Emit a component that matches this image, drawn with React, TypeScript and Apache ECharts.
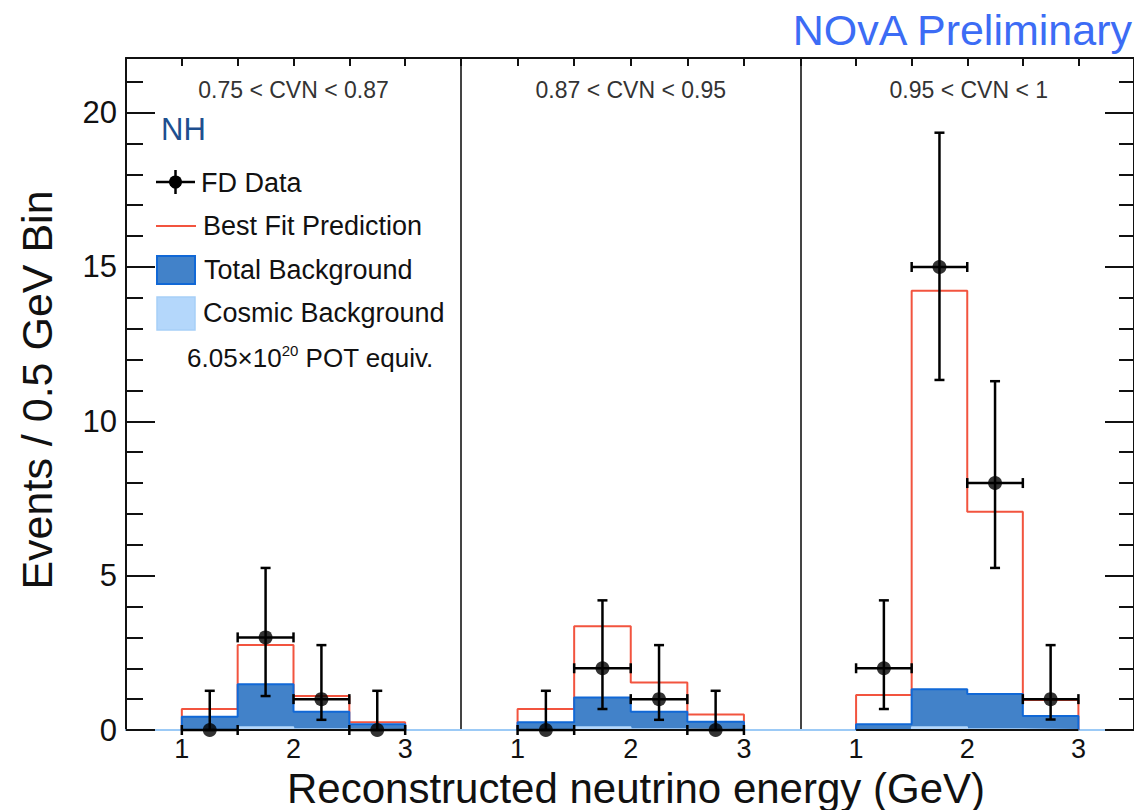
import React, { useEffect, useRef } from "react";
import * as echarts from "echarts";

// ---------- data ----------
const BIN_EDGES = [1, 1.5, 2, 2.5, 3];
const X_TICK_VALUES = [1, 2, 3];
const PANEL_LABELS = ["0.75 < CVN < 0.87", "0.87 < CVN < 0.95", "0.95 < CVN < 1"];
const Y_MAX = 21.77;

// Best fit prediction (red)
const BEST_FIT_P1 = [0.68, 2.75, 1.1, 0.25];
const BEST_FIT_P2 = [0.68, 3.36, 1.54, 0.5];
const BEST_FIT_P3 = [1.13, 14.23, 7.07, 0.97];

// Total background (blue)
const TOTAL_BKG_P1 = [0.43, 1.48, 0.59, 0.19];
const TOTAL_BKG_P2 = [0.25, 1.05, 0.59, 0.27];
const TOTAL_BKG_P3 = [0.19, 1.32, 1.17, 0.45];

// Cosmic background (light blue)
const COSMIC_BKG_P1 = [0.02, 0.1, 0.03, 0.01];
const COSMIC_BKG_P2 = [0.02, 0.1, 0.03, 0.01];
const COSMIC_BKG_P3 = [0.02, 0.1, 0.03, 0.01];

// FD data and asymmetric errors
const DATA_P1 = [0, 3, 1, 0];
const DATA_P2 = [0, 2, 1, 0];
const DATA_P3 = [2, 15, 8, 1];
const ERR_LO_P1 = [0, 1.1, 0.33, 0];
const ERR_LO_P2 = [0, 0.68, 0.33, 0];
const ERR_LO_P3 = [0.68, 11.34, 5.25, 0.34];
const ERR_HI_P1 = [1.27, 5.25, 2.75, 1.27];
const ERR_HI_P2 = [1.27, 4.2, 2.75, 1.27];
const ERR_HI_P3 = [4.2, 19.35, 11.3, 2.75];

const PANELS = [
  { pred: BEST_FIT_P1, bkg: TOTAL_BKG_P1, cos: COSMIC_BKG_P1, data: DATA_P1, lo: ERR_LO_P1, hi: ERR_HI_P1 },
  { pred: BEST_FIT_P2, bkg: TOTAL_BKG_P2, cos: COSMIC_BKG_P2, data: DATA_P2, lo: ERR_LO_P2, hi: ERR_HI_P2 },
  { pred: BEST_FIT_P3, bkg: TOTAL_BKG_P3, cos: COSMIC_BKG_P3, data: DATA_P3, lo: ERR_LO_P3, hi: ERR_HI_P3 },
];

// ---------- layout / style ----------
const FONT = "'Liberation Sans', Arial, Helvetica, sans-serif";
const GRID_TOP = 58;
const GRID_H = 672;
const GRIDS = [
  { left: 126, width: 335 },
  { left: 461, width: 339.5 },
  { left: 800.5, width: 336.5 },
];
const RED = "#f2543f";
const BLUE_FILL = "#4282c9";
const BLUE_LINE = "#1168d6";
const LIGHT_BLUE = "#b4d7fb";
const AXIS_BLUE = "#9ccaf6";

function stepPoints(values: number[]) {
  const pts: number[][] = [[BIN_EDGES[0], 0]];
  values.forEach((v, i) => {
    pts.push([BIN_EDGES[i], v]);
    pts.push([BIN_EDGES[i + 1], v]);
  });
  pts.push([BIN_EDGES[BIN_EDGES.length - 1], 0]);
  return pts;
}

function buildOption() {
  const xAxis: any[] = [];
  const yAxis: any[] = [];
  const series: any[] = [];

  GRIDS.forEach((_, gi) => {
    xAxis.push({
      type: "value",
      gridIndex: gi,
      position: "bottom",
      min: 0.5,
      max: 3.5,
      interval: 0.5,
      axisLine: { show: true, onZero: false, lineStyle: { color: AXIS_BLUE, width: 2 } },
      axisTick: { show: false },
      splitLine: { show: false },
      axisLabel: {
        show: true,
        fontFamily: FONT,
        fontSize: 27,
        color: "#111",
        margin: 5,
        customValues: X_TICK_VALUES,
        formatter: (v: number) => (X_TICK_VALUES.includes(v) ? String(v) : ""),
      },
    });
    xAxis.push({
      type: "value",
      gridIndex: gi,
      position: "top",
      min: 0.5,
      max: 3.5,
      interval: 0.5,
      axisLine: { show: true, onZero: false, lineStyle: { color: "#111", width: 2 } },
      axisTick: { show: true, inside: true, length: 8, lineStyle: { color: "#111", width: 2 } },
      splitLine: { show: false },
      axisLabel: { show: false },
    });
  });

  // grid 0: left axis major + minor
  yAxis.push({
    type: "value",
    gridIndex: 0,
    position: "left",
    min: 0,
    max: Y_MAX,
    interval: 5,
    axisLine: { show: true, onZero: false, lineStyle: { color: "#111", width: 2 } },
    axisTick: { show: true, inside: true, length: 29, lineStyle: { color: "#111", width: 2 } },
    splitLine: { show: false },
    axisLabel: { show: true, fontFamily: FONT, fontSize: 31, color: "#111", margin: 9, showMaxLabel: false },
  });
  yAxis.push({
    type: "value",
    gridIndex: 0,
    position: "left",
    min: 0,
    max: Y_MAX,
    interval: 1,
    axisLine: { show: false, onZero: false },
    axisTick: { show: true, inside: true, length: 17, lineStyle: { color: "#111", width: 2 } },
    splitLine: { show: false },
    axisLabel: { show: false },
  });
  // grid 1 & 2 dividers
  [1, 2].forEach((gi) => {
    yAxis.push({
      type: "value",
      gridIndex: gi,
      position: "left",
      min: 0,
      max: Y_MAX,
      interval: 5,
      axisLine: { show: true, onZero: false, lineStyle: { color: "#444", width: 2 } },
      axisTick: { show: false },
      splitLine: { show: false },
      axisLabel: { show: false },
    });
  });
  // grid 2 right axis major + minor
  yAxis.push({
    type: "value",
    gridIndex: 2,
    position: "right",
    min: 0,
    max: Y_MAX,
    interval: 5,
    axisLine: { show: true, onZero: false, lineStyle: { color: "#111", width: 2 } },
    axisTick: { show: true, inside: true, length: 29, lineStyle: { color: "#111", width: 2 } },
    splitLine: { show: false },
    axisLabel: { show: false },
  });
  yAxis.push({
    type: "value",
    gridIndex: 2,
    position: "right",
    min: 0,
    max: Y_MAX,
    interval: 1,
    axisLine: { show: false, onZero: false },
    axisTick: { show: true, inside: true, length: 15, lineStyle: { color: "#111", width: 2 } },
    splitLine: { show: false },
    axisLabel: { show: false },
  });

  const yIdx = [0, 2, 3];

  PANELS.forEach((p, gi) => {
    const xi = gi * 2;
    const yi = yIdx[gi];
    series.push({
      type: "line",
      name: "Best Fit Prediction",
      xAxisIndex: xi,
      yAxisIndex: yi,
      data: stepPoints(p.pred),
      showSymbol: false,
      symbol: "none",
      lineStyle: { color: RED, width: 2 },
      z: 2,
    });
    series.push({
      type: "line",
      name: "Total Background",
      xAxisIndex: xi,
      yAxisIndex: yi,
      data: stepPoints(p.bkg),
      showSymbol: false,
      symbol: "none",
      lineStyle: { color: BLUE_LINE, width: 2 },
      areaStyle: { color: BLUE_FILL, opacity: 1 },
      z: 3,
    });
    series.push({
      type: "line",
      name: "Cosmic Background",
      xAxisIndex: xi,
      yAxisIndex: yi,
      data: stepPoints(p.cos),
      showSymbol: false,
      symbol: "none",
      lineStyle: { color: LIGHT_BLUE, width: 1.5 },
      areaStyle: { color: LIGHT_BLUE, opacity: 1 },
      z: 4,
    });
    series.push({
      type: "line",
      name: "baseline",
      xAxisIndex: xi,
      yAxisIndex: yi,
      data: [
        [BIN_EDGES[0], 0],
        [BIN_EDGES[BIN_EDGES.length - 1], 0],
      ],
      showSymbol: false,
      symbol: "none",
      lineStyle: { color: "#111", width: 2 },
      z: 5,
    });
    const errData = p.data.map((v, i) => {
      const c = (BIN_EDGES[i] + BIN_EDGES[i + 1]) / 2;
      return [c, v, p.lo[i], p.hi[i], BIN_EDGES[i], BIN_EDGES[i + 1]];
    });
    series.push({
      type: "custom",
      name: "FD Data errors",
      xAxisIndex: xi,
      yAxisIndex: yi,
      data: errData,
      encode: { x: [0, 4, 5], y: [1, 2, 3] },
      z: 6,
      renderItem: (params: any, api: any) => {
        const x = api.value(0);
        const y = api.value(1);
        const lo = api.value(2);
        const hi = api.value(3);
        const xl = api.value(4);
        const xr = api.value(5);
        const top = api.coord([x, hi]);
        const bot = api.coord([x, lo]);
        const left = api.coord([xl, y]);
        const right = api.coord([xr, y]);
        const st = { stroke: "#000", lineWidth: 2.5 };
        const cw = 5;
        return {
          type: "group",
          children: [
            { type: "line", shape: { x1: top[0], y1: top[1], x2: bot[0], y2: bot[1] }, style: st },
            { type: "line", shape: { x1: top[0] - cw, y1: top[1], x2: top[0] + cw, y2: top[1] }, style: st },
            { type: "line", shape: { x1: bot[0] - cw, y1: bot[1], x2: bot[0] + cw, y2: bot[1] }, style: st },
            { type: "line", shape: { x1: left[0], y1: left[1], x2: right[0], y2: right[1] }, style: st },
            { type: "line", shape: { x1: left[0], y1: left[1] - cw, x2: left[0], y2: left[1] + cw }, style: st },
            { type: "line", shape: { x1: right[0], y1: right[1] - cw, x2: right[0], y2: right[1] + cw }, style: st },
          ],
        };
      },
    });
    series.push({
      type: "scatter",
      name: "FD Data",
      xAxisIndex: xi,
      yAxisIndex: yi,
      data: errData.map((d) => [d[0], d[1]]),
      symbol: "circle",
      symbolSize: 14,
      itemStyle: { color: "#000" },
      z: 7,
    });
  });

  const txt = (text: string, x: number, y: number, size: number, fill: string, align = "left", extra: any = {}) => ({
    type: "text",
    x,
    y,
    style: { text, fontFamily: FONT, fontSize: size, fill, align, verticalAlign: "middle", ...extra },
  });

  const graphic: any[] = [
    txt("NOvA Preliminary", 1132, 30, 43, "#3c6cf5", "right"),
    ...PANEL_LABELS.map((l, i) => txt(l, GRIDS[i].left + GRIDS[i].width / 2, 90, 23, "#333", "center")),
    txt("NH", 161, 129, 31, "#1e4f8f"),
    // legend: FD Data
    { type: "line", shape: { x1: 156, y1: 182, x2: 195, y2: 182 }, style: { stroke: "#000", lineWidth: 2.5 } },
    { type: "line", shape: { x1: 175.5, y1: 170, x2: 175.5, y2: 194 }, style: { stroke: "#000", lineWidth: 2.5 } },
    { type: "circle", shape: { cx: 175.5, cy: 182, r: 6.5 }, style: { fill: "#000" } },
    txt("FD Data", 201, 183, 27, "#111"),
    // Best fit
    { type: "line", shape: { x1: 156, y1: 226, x2: 196, y2: 226 }, style: { stroke: RED, lineWidth: 2 } },
    txt("Best Fit Prediction", 203, 226, 27, "#111"),
    // Total background
    { type: "rect", shape: { x: 157, y: 256, width: 38, height: 28 }, style: { fill: BLUE_FILL, stroke: BLUE_LINE, lineWidth: 2 } },
    txt("Total Background", 204, 270, 27, "#111"),
    // Cosmic background
    { type: "rect", shape: { x: 157, y: 297, width: 38, height: 33 }, style: { fill: LIGHT_BLUE, stroke: "#a6cff8", lineWidth: 1.5 } },
    txt("Cosmic Background", 203, 313, 27, "#111"),
    // POT
    {
      type: "text",
      x: 187,
      y: 358,
      style: {
        text: "6.05×10{sup|20} POT equiv.",
        fontFamily: FONT,
        fontSize: 26,
        fill: "#111",
        align: "left",
        verticalAlign: "middle",
        rich: {
          sup: { fontFamily: FONT, fontSize: 15, fill: "#111", verticalAlign: "top", lineHeight: 30 },
        },
      },
    },
    // axis titles
    txt("Reconstructed neutrino energy (GeV)", 985, 788, 42, "#111", "right"),
    {
      type: "text",
      x: 37,
      y: 390,
      rotation: Math.PI / 2,
      style: { text: "Events / 0.5 GeV Bin", fontFamily: FONT, fontSize: 43, fill: "#111", align: "center", verticalAlign: "middle" },
    },
  ];

  return {
    animation: false,
    backgroundColor: "#fff",
    grid: GRIDS.map((g) => ({ left: g.left, width: g.width, top: GRID_TOP, height: GRID_H })),
    xAxis,
    yAxis,
    series,
    graphic: { elements: graphic },
  };
}

export default function App() {
  const ref = useRef<HTMLDivElement>(null);
  useEffect(() => {
    if (!ref.current) return;
    const chart = echarts.init(ref.current, undefined, { renderer: "svg" });
    chart.setOption(buildOption() as any);
    return () => chart.dispose();
  }, []);
  return (
    <div
      ref={ref}
      style={{ position: "absolute", left: 0, top: 0, width: 1134, height: 810, overflow: "hidden", background: "#fff" }}
    />
  );
}
